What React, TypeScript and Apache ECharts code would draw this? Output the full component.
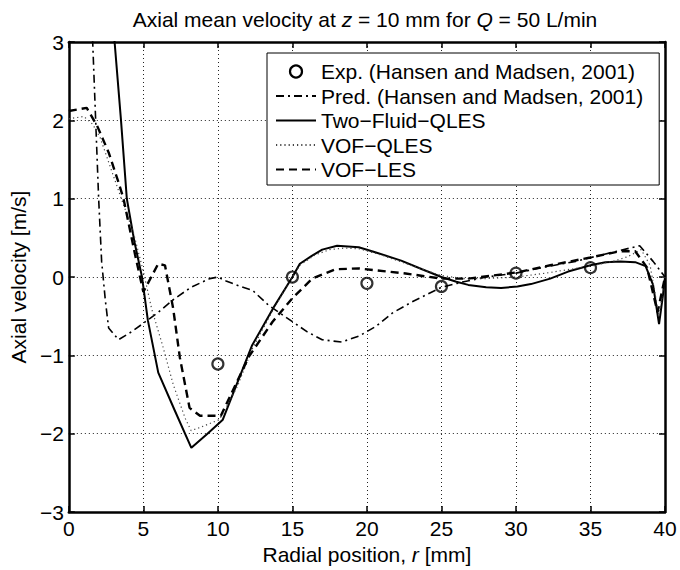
import React, { useEffect, useRef } from "react";
import * as echarts from "echarts";

// Exp. (Hansen and Madsen, 2001)
const expR = [10, 15, 20, 25, 30, 35];
const expV = [-1.11, 0.0, -0.08, -0.12, 0.05, 0.12];

// Pred. (Hansen and Madsen, 2001)
const predR = [1.45, 1.6, 1.8, 2.0, 2.2, 2.45, 2.67, 3.33, 4.2, 5.0, 6.0, 7.0, 8.2, 9.45, 10.0, 10.55, 11.5, 12.33, 13.4, 15.0, 16.0, 17.0, 18.3, 19.5, 20.6, 21.7, 23.0, 25.0, 26.5, 28.0, 30.0, 32.0, 34.0, 35.7, 37.0, 38.3, 39.2, 40.0];
const predV = [3.5, 3.0, 2.0, 1.0, 0.2, -0.3, -0.65, -0.8, -0.7, -0.59, -0.45, -0.29, -0.13, -0.02, 0.0, -0.05, -0.12, -0.17, -0.36, -0.57, -0.7, -0.8, -0.83, -0.75, -0.63, -0.46, -0.32, -0.13, -0.06, 0.0, 0.05, 0.13, 0.2, 0.28, 0.34, 0.4, 0.2, 0.0];

// Two-Fluid-QLES
const tfR = [2.85, 3.07, 3.5, 3.89, 4.4, 4.91, 5.3, 6.0, 7.1, 8.22, 9.3, 10.33, 11.3, 12.3, 13.7, 15.0, 15.5, 16.3, 17.0, 18.0, 19.45, 20.5, 22.3, 23.7, 25.0, 26.0, 26.8, 28.0, 29.0, 30.1, 31.0, 32.3, 33.5, 35.0, 36.0, 37.0, 38.0, 38.7, 39.2, 39.6, 39.85, 40.0];
const tfV = [3.5, 3.0, 2.0, 1.0, 0.45, 0.0, -0.55, -1.22, -1.7, -2.18, -2.0, -1.82, -1.35, -0.87, -0.4, 0.0, 0.17, 0.27, 0.35, 0.4, 0.38, 0.32, 0.21, 0.1, 0.0, -0.06, -0.1, -0.13, -0.14, -0.12, -0.09, -0.02, 0.07, 0.15, 0.19, 0.2, 0.19, 0.14, -0.1, -0.6, -0.25, 0.0];

// VOF-QLES
const vqR = [0.0, 1.0, 1.6, 2.1, 2.7, 3.45, 4.33, 5.0, 5.55, 6.33, 7.0, 7.8, 8.2, 8.8, 10.1, 11.3, 12.3, 13.7, 15.0, 15.5, 16.5, 17.5, 18.5, 19.5, 21.0, 22.5, 24.0, 25.0, 26.5, 28.0, 30.0, 32.0, 34.0, 35.0, 36.5, 37.5, 38.4, 39.0, 39.6, 40.0];
const vqV = [2.02, 2.05, 1.95, 1.78, 1.45, 1.04, 0.57, 0.07, -0.4, -0.9, -1.37, -1.8, -1.96, -1.92, -1.82, -1.4, -0.92, -0.42, 0.0, 0.15, 0.28, 0.35, 0.37, 0.36, 0.28, 0.18, 0.08, 0.02, -0.02, -0.02, 0.0, 0.05, 0.11, 0.14, 0.2, 0.26, 0.35, 0.15, -0.5, 0.0];

// VOF-LES
const vlR = [0.0, 1.2, 1.9, 2.67, 3.33, 3.67, 4.45, 5.0, 6.0, 6.45, 7.0, 7.45, 8.1, 8.8, 10.2, 12.1, 13.67, 15.0, 16.33, 17.9, 19.45, 22.6, 25.0, 26.8, 30.1, 32.3, 35.0, 37.0, 38.0, 38.8, 39.5, 40.0];
const vlV = [2.12, 2.16, 1.93, 1.59, 1.21, 1.0, 0.28, -0.19, 0.17, 0.15, -0.4, -1.03, -1.67, -1.77, -1.77, -1.01, -0.57, -0.27, -0.02, 0.1, 0.11, 0.045, -0.02, -0.02, 0.06, 0.15, 0.25, 0.33, 0.33, 0.12, -0.45, 0.0];

const seriesNames = [
  "Exp. (Hansen and Madsen, 2001)",
  "Pred. (Hansen and Madsen, 2001)",
  "Two\u2212Fluid\u2212QLES",
  "VOF\u2212QLES",
  "VOF\u2212LES",
];

const FONT = "'Liberation Sans', Arial, Helvetica, sans-serif";
const pairs = (xs: number[], ys: number[]) => xs.map((x, i) => [x, ys[i]]);

export default function App() {
  const ref = useRef<HTMLDivElement>(null);
  useEffect(() => {
    if (!ref.current) return;
    const chart = echarts.init(ref.current, undefined, { renderer: "svg" });
    const frameLine = { show: true, onZero: false, lineStyle: { color: "#000", width: 2.5 } };
    const tick = { show: true, inside: true, length: 6, lineStyle: { color: "#000", width: 1.5 } };
    const grid = { show: true, lineStyle: { color: "#222", width: 1, type: [1, 3] as any } };
    const labelStyle = { fontSize: 21, color: "#000", fontFamily: FONT };
    const minusFmt = (v: number) => (v < 0 ? "\u2212" + Math.abs(v) : String(v));
    chart.setOption({
      animation: false,
      backgroundColor: "#fff",
      title: {
        text: "Axial mean velocity at {i|z} = 10 mm for {i|Q} = 50 L/min",
        left: 365,
        top: 9,
        textAlign: "center",
        padding: 0,
        textStyle: {
          fontSize: 21,
          fontWeight: "normal",
          color: "#000",
          fontFamily: FONT,
          rich: { i: { fontSize: 21, fontStyle: "italic", color: "#000", fontFamily: FONT } },
        },
      },
      grid: { left: 65, right: 15, top: 42, bottom: 55 },
      legend: {
        orient: "vertical",
        left: 267,
        top: 53,
        itemWidth: 40,
        itemHeight: 12,
        itemGap: 3.5,
        padding: [8, 16, 5, 8],
        borderColor: "#000",
        borderWidth: 1,
        backgroundColor: "#fff",
        align: "left",
        itemStyle: { opacity: 0 },
        textStyle: { fontSize: 21, lineHeight: 21, color: "#000", fontFamily: FONT },
        data: [
          {
            name: seriesNames[0],
            icon: "circle",
            itemStyle: { color: "#fff", borderColor: "#000", borderWidth: 2.2, opacity: 1 },
          },
          { name: seriesNames[1] },
          { name: seriesNames[2] },
          { name: seriesNames[3] },
          { name: seriesNames[4] },
        ],
      },
      xAxis: [
        {
          type: "value",
          min: 0,
          max: 40,
          interval: 5,
          position: "bottom",
          axisLine: frameLine,
          axisTick: tick,
          splitLine: grid,
          axisLabel: { ...labelStyle, margin: 6 },
          name: "Radial position, {i|r} [mm]",
          nameLocation: "middle",
          nameGap: 29,
          nameTextStyle: {
            ...labelStyle,
            rich: { i: { fontSize: 21, fontStyle: "italic", color: "#000", fontFamily: FONT } },
          },
        },
        {
          type: "value",
          min: 0,
          max: 40,
          interval: 5,
          position: "top",
          axisLine: frameLine,
          axisTick: tick,
          splitLine: { show: false },
          axisLabel: { show: false },
        },
      ],
      yAxis: [
        {
          type: "value",
          min: -3,
          max: 3,
          interval: 1,
          position: "left",
          axisLine: frameLine,
          axisTick: tick,
          splitLine: grid,
          axisLabel: { ...labelStyle, margin: 5, formatter: minusFmt },
          name: "Axial velocity [m/s]",
          nameLocation: "middle",
          nameGap: 33,
          nameTextStyle: labelStyle,
        },
        {
          type: "value",
          min: -3,
          max: 3,
          interval: 1,
          position: "right",
          axisLine: frameLine,
          axisTick: tick,
          splitLine: { show: false },
          axisLabel: { show: false },
        },
      ],
      series: [
        {
          name: seriesNames[0],
          type: "scatter",
          data: pairs(expR, expV),
          symbol: "circle",
          symbolSize: 11,
          itemStyle: { color: "rgba(255,255,255,0)", borderColor: "#000", borderWidth: 2.2 },
          z: 5,
        },
        {
          name: seriesNames[1],
          type: "line",
          data: pairs(predR, predV),
          symbol: "none",
          itemStyle: { color: "#000" },
          lineStyle: { color: "#000", width: 1.6, type: [8, 4, 2, 4] },
        },
        {
          name: seriesNames[2],
          type: "line",
          data: pairs(tfR, tfV),
          symbol: "none",
          itemStyle: { color: "#000" },
          lineStyle: { color: "#000", width: 2 },
        },
        {
          name: seriesNames[3],
          type: "line",
          data: pairs(vqR, vqV),
          symbol: "none",
          itemStyle: { color: "#444" },
          lineStyle: { color: "#444", width: 1.2, type: [1.2, 3] },
        },
        {
          name: seriesNames[4],
          type: "line",
          data: pairs(vlR, vlV),
          symbol: "none",
          itemStyle: { color: "#000" },
          lineStyle: { color: "#000", width: 2.4, type: [8, 5] },
        },
      ],
    });
    return () => chart.dispose();
  }, []);
  return (
    <div
      ref={ref}
      style={{ position: "fixed", left: 0, top: 0, width: 680, height: 570, background: "#fff" }}
    />
  );
}
